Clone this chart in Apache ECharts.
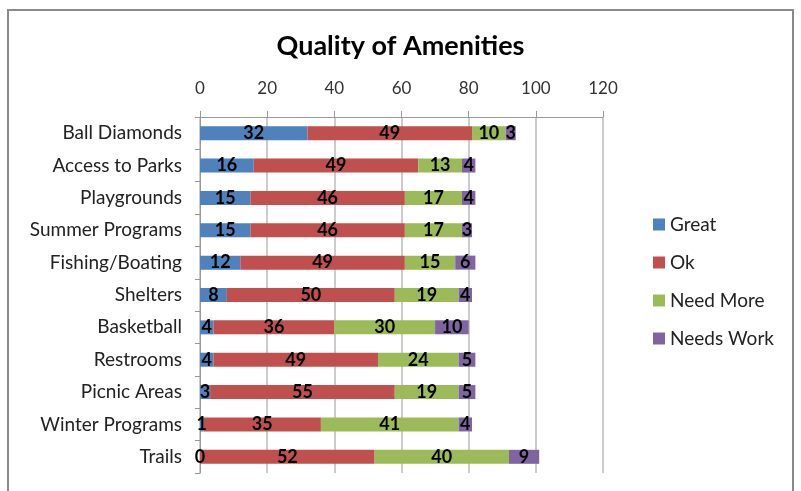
<!DOCTYPE html>
<html><head><meta charset="utf-8">
<script src="https://cdn.jsdelivr.net/npm/echarts@6/dist/echarts.min.js"></script>
<style>html,body{margin:0;padding:0;background:#fff}#c{width:801px;height:491px}</style>
</head><body><div id="c"></div>
<script>
var categories = ['Ball Diamonds','Access to Parks','Playgrounds','Summer Programs','Fishing/Boating','Shelters','Basketball','Restrooms','Picnic Areas','Winter Programs','Trails'];
var great = [32,16,15,15,12,8,4,4,3,1,0];
var ok = [49,49,46,46,49,50,36,49,55,35,52];
var needMore = [10,13,17,17,15,19,30,24,19,41,40];
var needsWork = [3,4,4,3,6,4,10,5,5,4,9];
var seriesNames = ['Great','Ok','Need More','Needs Work'];
var colors = ['#4F81BD','#C0504D','#9BBB59','#8064A2'];
var FONT = 'Lato, Calibri, sans-serif';
var chart = echarts.init(document.getElementById('c'));
var datas = [great, ok, needMore, needsWork];
chart.setOption({
  animation: false,
  title: {text: 'Quality of Amenities', left: 'center', top: 28,
    textStyle: {fontFamily: FONT, fontSize: 27, fontWeight: 'bold', color: '#000'}},
  legend: {orient: 'vertical', left: 648, top: 210, itemWidth: 12, itemHeight: 12, itemGap: 19,
    icon: 'rect', textStyle: {fontFamily: FONT, fontSize: 19, color: '#222'}, data: seriesNames},
  grid: {left: 200, right: 198, top: 117, bottom: 18, containLabel: false},
  xAxis: {type: 'value', position: 'top', min: 0, max: 120, interval: 20,
    axisLine: {show: true, lineStyle: {color: '#999'}},
    axisTick: {show: true, length: 6, lineStyle: {color: '#999'}},
    axisLabel: {fontFamily: FONT, fontSize: 17, color: '#333', margin: 20},
    splitLine: {show: true, lineStyle: {color: '#bbb', width: 1.5}}},
  yAxis: {type: 'category', inverse: true, data: categories,
    axisLine: {show: true, lineStyle: {color: '#999'}},
    axisTick: {show: true, length: 5, lineStyle: {color: '#999'}},
    axisLabel: {fontFamily: FONT, fontSize: 19, color: '#222', margin: 18}},
  graphic: [{type: 'rect', shape: {x: 8, y: 10, width: 785, height: 500},
    style: {fill: 'none', stroke: '#8a8a8a', lineWidth: 2}, silent: true, z: -1}],
  series: seriesNames.map(function(n, i){
    return {name: n, type: 'bar', stack: 'all', barWidth: 14, data: datas[i],
      itemStyle: {color: colors[i]},
      label: {show: true, position: 'inside', fontFamily: FONT, fontSize: 18, fontWeight: 'bold', color: '#000'}};
  })
});
</script></body></html>
